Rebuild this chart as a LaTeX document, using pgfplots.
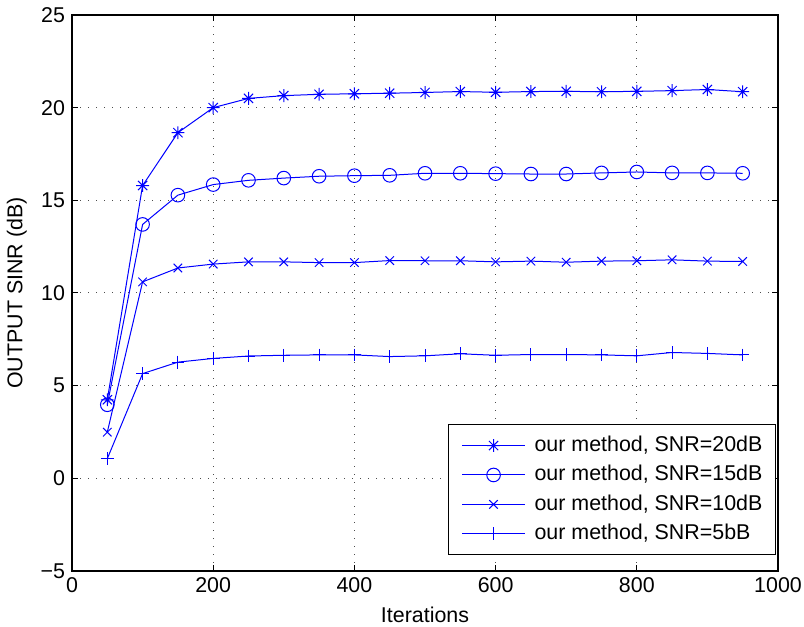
\documentclass[border=0pt]{standalone}
\usepackage{pgfplots}
\pgfplotsset{compat=1.18}
\usepackage{fontspec}
\setmainfont{Liberation Sans}
\pgfdeclareplotmark{mstar}{%
  \pgfpathmoveto{\pgfqpoint{-\pgfplotmarksize}{0pt}}%
  \pgfpathlineto{\pgfqpoint{\pgfplotmarksize}{0pt}}%
  \pgfpathmoveto{\pgfqpoint{0pt}{-\pgfplotmarksize}}%
  \pgfpathlineto{\pgfqpoint{0pt}{\pgfplotmarksize}}%
  \pgfpathmoveto{\pgfqpoint{-0.72\pgfplotmarksize}{-0.72\pgfplotmarksize}}%
  \pgfpathlineto{\pgfqpoint{0.72\pgfplotmarksize}{0.72\pgfplotmarksize}}%
  \pgfpathmoveto{\pgfqpoint{-0.72\pgfplotmarksize}{0.72\pgfplotmarksize}}%
  \pgfpathlineto{\pgfqpoint{0.72\pgfplotmarksize}{-0.72\pgfplotmarksize}}%
  \pgfusepathqstroke}
\definecolor{mblue}{RGB}{0,0,255}
\begin{document}
\begin{tikzpicture}
\begin{axis}[
  scale only axis,
  width=353bp, height=278bp,
  xmin=0, xmax=1000, ymin=-5, ymax=25,
  xtick={0,200,400,600,800,1000},
  xticklabels={0,200,400,600,800,1000},
  ytick={-5,0,5,10,15,20,25},
  yticklabels={−5,0,5,10,15,20,25},
  tick align=inside,
  major tick length=3bp,
  xtick pos=both, ytick pos=both,
  grid=major,
  major grid style={black!70, line width=0.5bp, dash pattern=on 0.5bp off 3.5bp},
  axis line style={line width=0.6bp},
  every tick/.style={black, line width=0.5bp},
  tick label style={font=\fontsize{10.7bp}{12.8bp}\selectfont},
  label style={font=\fontsize{10.7bp}{12.8bp}\selectfont},
  xlabel={Iterations},
  ylabel={OUTPUT SINR (dB)},
  legend cell align=left,
  legend style={at={(rel axis cs:0.997,0.029)}, anchor=south east,
    draw=black, line width=0.5bp, font=\fontsize{10.7bp}{12.8bp}\selectfont,
    nodes={inner sep=0bp, text height=7.9bp, text depth=2.1bp},
    row sep=4.7bp, column sep=4.5bp, inner xsep=6.5bp, inner ysep=5.3bp},
  legend image code/.code={\draw[mblue, line width=0.5bp, mark repeat=2, mark phase=2] plot coordinates {(0bp,0bp) (15.75bp,0bp) (31.5bp,0bp)};},
  every axis plot/.append style={mblue, line width=0.5bp, mark options={solid}},
]
\addplot[mblue, mark=mstar, mark size=3.2bp] coordinates {
(50,4.24) (100,15.8) (150,18.65) (200,20.0) (250,20.5) (300,20.65) (350,20.72) (400,20.75) (450,20.78) (500,20.82) (550,20.87) (600,20.83) (650,20.87) (700,20.88) (750,20.86) (800,20.88) (850,20.92) (900,20.98) (950,20.86)};
\addlegendentry{our method, SNR=20dB}
\addplot[mblue, mark=o, mark size=3.4bp] coordinates {
(50,3.97) (100,13.7) (150,15.28) (200,15.85) (250,16.08) (300,16.2) (350,16.3) (400,16.33) (450,16.35) (500,16.46) (550,16.46) (600,16.44) (650,16.42) (700,16.42) (750,16.48) (800,16.53) (850,16.48) (900,16.48) (950,16.46)};
\addlegendentry{our method, SNR=15dB}
\addplot[mblue, mark=x, mark size=3bp] coordinates {
(50,2.49) (100,10.6) (150,11.35) (200,11.56) (250,11.68) (300,11.68) (350,11.64) (400,11.64) (450,11.75) (500,11.74) (550,11.74) (600,11.68) (650,11.72) (700,11.66) (750,11.72) (800,11.74) (850,11.79) (900,11.72) (950,11.7)};
\addlegendentry{our method, SNR=10dB}
\addplot[mblue, mark=+, mark size=3.2bp] coordinates {
(50,1.06) (100,5.65) (150,6.27) (200,6.47) (250,6.6) (300,6.64) (350,6.66) (400,6.66) (450,6.57) (500,6.61) (550,6.72) (600,6.64) (650,6.68) (700,6.68) (750,6.66) (800,6.61) (850,6.79) (900,6.74) (950,6.66)};
\addlegendentry{our method, SNR=5bB}
\end{axis}
\pgfresetboundingbox
\useasboundingbox ([shift={(-36bp,-28bp)}]current axis.south west) rectangle ([shift={(366bp,285.5bp)}]current axis.south west);
\end{tikzpicture}
\end{document}
